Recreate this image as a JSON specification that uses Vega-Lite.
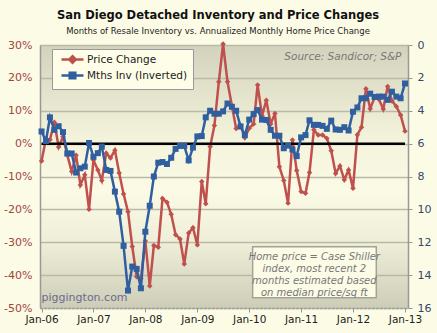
{
  "$schema": "https://vega.github.io/schema/vega-lite/v6.json",
  "width": 368,
  "height": 263,
  "autosize": {"type": "none"},
  "padding": {"left": 40, "top": 45, "right": 29, "bottom": 25},
  "background": "#fcfce6",
  "title": {
    "text": "San Diego Detached Inventory and Price Changes",
    "subtitle": "Months of Resale Inventory vs. Annualized Monthly Home Price Change",
    "font": "DejaVu Sans",
    "fontSize": 11.5,
    "fontWeight": "bold",
    "color": "#111111",
    "subtitleFont": "DejaVu Sans",
    "subtitleFontSize": 8.5,
    "subtitleColor": "#222222",
    "anchor": "middle",
    "offset": 4,
    "subtitlePadding": 5,
    "dx": -6
  },
  "config": {
    "font": "DejaVu Sans",
    "view": {
      "stroke": null,
      "fill": {
        "gradient": "linear",
        "x1": 0, "y1": 0, "x2": 0, "y2": 1,
        "stops": [
          {"offset": 0, "color": "#d3d3bd"},
          {"offset": 0.35, "color": "#f3f3dc"},
          {"offset": 0.55, "color": "#fbfbe5"},
          {"offset": 0.75, "color": "#efefd9"},
          {"offset": 1, "color": "#cdcdb8"}
        ]
      }
    }
  },
  "data": {
    "values": [
      {"date": "2006-01-01", "price": -5.3, "inv": 5.26},
      {"date": "2006-02-01", "price": 1.5, "inv": 5.84},
      {"date": "2006-03-01", "price": 1.2, "inv": 4.40},
      {"date": "2006-04-01", "price": 6.5, "inv": 5.16},
      {"date": "2006-05-01", "price": -1.0, "inv": 4.94},
      {"date": "2006-06-01", "price": 2.1, "inv": 5.30},
      {"date": "2006-07-01", "price": -3.5, "inv": 6.60},
      {"date": "2006-08-01", "price": -8.5, "inv": 6.60},
      {"date": "2006-09-01", "price": -3.5, "inv": 7.76},
      {"date": "2006-10-01", "price": -12.6, "inv": 7.50},
      {"date": "2006-11-01", "price": -9.5, "inv": 7.40},
      {"date": "2006-12-01", "price": -20.0, "inv": 5.96},
      {"date": "2007-01-01", "price": -5.0, "inv": 6.80},
      {"date": "2007-02-01", "price": -8.0, "inv": 6.58},
      {"date": "2007-03-01", "price": -11.2, "inv": 6.18},
      {"date": "2007-04-01", "price": -2.9, "inv": 7.60},
      {"date": "2007-05-01", "price": -4.4, "inv": 7.66},
      {"date": "2007-06-01", "price": -2.0, "inv": 8.92},
      {"date": "2007-07-01", "price": -8.9, "inv": 10.14},
      {"date": "2007-08-01", "price": -15.3, "inv": 12.22},
      {"date": "2007-09-01", "price": -20.7, "inv": 14.94},
      {"date": "2007-10-01", "price": -31.3, "inv": 13.48},
      {"date": "2007-11-01", "price": -40.5, "inv": 13.62},
      {"date": "2007-12-01", "price": -41.0, "inv": 14.80},
      {"date": "2008-01-01", "price": -29.6, "inv": 11.36},
      {"date": "2008-02-01", "price": -43.3, "inv": 9.78},
      {"date": "2008-03-01", "price": -31.0, "inv": 8.00},
      {"date": "2008-04-01", "price": -31.5, "inv": 7.16},
      {"date": "2008-05-01", "price": -16.7, "inv": 7.12},
      {"date": "2008-06-01", "price": -17.8, "inv": 7.24},
      {"date": "2008-07-01", "price": -21.5, "inv": 6.86},
      {"date": "2008-08-01", "price": -27.7, "inv": 6.32},
      {"date": "2008-09-01", "price": -29.0, "inv": 6.14},
      {"date": "2008-10-01", "price": -36.6, "inv": 6.14},
      {"date": "2008-11-01", "price": -27.2, "inv": 7.02},
      {"date": "2008-12-01", "price": -25.6, "inv": 6.24},
      {"date": "2009-01-01", "price": -30.8, "inv": 5.56},
      {"date": "2009-02-01", "price": -11.5, "inv": 5.54},
      {"date": "2009-03-01", "price": -18.3, "inv": 4.40},
      {"date": "2009-04-01", "price": -0.9, "inv": 4.00},
      {"date": "2009-05-01", "price": 5.5, "inv": 4.18},
      {"date": "2009-06-01", "price": 18.8, "inv": 4.18},
      {"date": "2009-07-01", "price": 30.3, "inv": 4.04},
      {"date": "2009-08-01", "price": 18.8, "inv": 3.56},
      {"date": "2009-09-01", "price": 11.5, "inv": 3.76},
      {"date": "2009-10-01", "price": 4.6, "inv": 4.00},
      {"date": "2009-11-01", "price": 5.6, "inv": 4.96},
      {"date": "2009-12-01", "price": 1.8, "inv": 5.48},
      {"date": "2010-01-01", "price": 4.7, "inv": 4.54},
      {"date": "2010-02-01", "price": 6.0, "inv": 4.20},
      {"date": "2010-03-01", "price": 17.8, "inv": 3.96},
      {"date": "2010-04-01", "price": 8.5, "inv": 4.54},
      {"date": "2010-05-01", "price": 13.2, "inv": 4.56},
      {"date": "2010-06-01", "price": 6.0, "inv": 5.16},
      {"date": "2010-07-01", "price": 9.2, "inv": 5.52},
      {"date": "2010-08-01", "price": -7.0, "inv": 5.52},
      {"date": "2010-09-01", "price": -11.2, "inv": 6.28},
      {"date": "2010-10-01", "price": -18.1, "inv": 6.12},
      {"date": "2010-11-01", "price": 1.1, "inv": 6.36},
      {"date": "2010-12-01", "price": -8.2, "inv": 6.76},
      {"date": "2011-01-01", "price": -14.6, "inv": 5.62},
      {"date": "2011-02-01", "price": -15.1, "inv": 5.48},
      {"date": "2011-03-01", "price": -8.8, "inv": 4.58},
      {"date": "2011-04-01", "price": 4.2, "inv": 4.86},
      {"date": "2011-05-01", "price": 2.6, "inv": 4.86},
      {"date": "2011-06-01", "price": 2.6, "inv": 4.92},
      {"date": "2011-07-01", "price": 1.6, "inv": 5.10},
      {"date": "2011-08-01", "price": -2.2, "inv": 4.60},
      {"date": "2011-09-01", "price": -9.1, "inv": 5.14},
      {"date": "2011-10-01", "price": -6.8, "inv": 5.16},
      {"date": "2011-11-01", "price": -11.0, "inv": 5.00},
      {"date": "2011-12-01", "price": -8.0, "inv": 5.20},
      {"date": "2012-01-01", "price": -13.6, "inv": 4.06},
      {"date": "2012-02-01", "price": 2.7, "inv": 3.80},
      {"date": "2012-03-01", "price": 5.0, "inv": 3.24},
      {"date": "2012-04-01", "price": 16.7, "inv": 3.24},
      {"date": "2012-05-01", "price": 10.6, "inv": 2.96},
      {"date": "2012-06-01", "price": 14.0, "inv": 3.16},
      {"date": "2012-07-01", "price": 13.5, "inv": 3.14},
      {"date": "2012-08-01", "price": 10.5, "inv": 3.14},
      {"date": "2012-09-01", "price": 17.4, "inv": 3.34},
      {"date": "2012-10-01", "price": 13.0, "inv": 2.84},
      {"date": "2012-11-01", "price": 11.3, "inv": 3.14},
      {"date": "2012-12-01", "price": 8.7, "inv": 3.24},
      {"date": "2013-01-01", "price": 3.8, "inv": 2.34}
    ]
  },
  "layer": [
    {
      "mark": {
        "type": "line",
        "strokeWidth": 2.5,
        "point": {"shape": "diamond", "size": 30, "filled": true}
      },
      "encoding": {
        "x": {
          "field": "date",
          "type": "temporal",
          "scale": {
            "type": "utc",
            "domain": [
              {"year": 2005, "month": 12, "date": 21, "utc": true},
              {"year": 2013, "month": 1, "date": 22, "utc": true}
            ]
          },
          "axis": {
            "title": null,
            "format": "%b-%y",
            "tickCount": {"interval": "year", "step": 1},
            "grid": false,
            "domainDash": [2, 2],
            "domainColor": "#999999",
            "domainWidth": 1.5,
            "tickColor": "#999999",
            "tickSize": 4,
            "labelColor": "#222222",
            "labelFontSize": 10.5,
            "labelPadding": 2,
            "labelFlush": false,
            "labelOverlap": false
          }
        },
        "y": {
          "field": "price",
          "type": "quantitative",
          "scale": {"domain": [-50, 30], "nice": false, "zero": false},
          "axis": {
            "title": null,
            "values": [-50, -40, -30, -20, -10, 0, 10, 20, 30],
            "labelExpr": "datum.value + '%'",
            "labelColor": "#a0463c",
            "labelFontSize": 11,
            "labelOverlap": false,
            "grid": true,
            "gridColor": "#b9b9a9",
            "gridWidth": 1.5,
            "domainColor": "#999999",
            "domainWidth": 1.5,
            "ticks": false,
            "labelPadding": 8
          }
        },
        "color": {
          "datum": "Price Change",
          "type": "nominal",
          "scale": {
            "domain": ["Price Change", "Mths Inv (Inverted)"],
            "range": ["#c0504d", "#2f5f9f"]
          },
          "legend": {
            "title": null,
            "orient": "none",
            "legendX": 12,
            "legendY": 4,
            "direction": "vertical",
            "fillColor": "#fdfde8",
            "strokeColor": "#999999",
            "padding": 5,
            "labelFont": "DejaVu Sans",
            "labelFontSize": 10.5,
            "labelColor": "#222222",
            "labelExpr": "datum.label + '\u00a0\u00a0\u00a0'",
            "symbolSize": 64,
            "symbolStrokeWidth": 2.5,
            "symbolOffset": 10,
            "labelOffset": 9,
            "rowPadding": -1,
            "encode": {
              "symbols": {
                "update": {
                  "shape": {"signal": "datum.value === 'Price Change' ? 'M-2.75,0H2.75M0,-0.82L0.82,0L0,0.82L-0.82,0Z' : 'M-2.75,0H2.75M-0.7,-0.7H0.7V0.7H-0.7Z'"},
                  "fill": {"signal": "scale('color', datum.value)"},
                  "stroke": {"signal": "scale('color', datum.value)"},
                  "strokeWidth": {"value": 2.5}
                }
              }
            }
          }
        }
      }
    },
    {
      "data": {"values": [{"label": "zero"}]},
      "mark": {"type": "rule", "color": "#000000", "strokeWidth": 2.5},
      "encoding": {
        "x": {"datum": {"year": 2006, "month": 1, "date": 1, "utc": true}, "type": "temporal"},
        "x2": {"datum": {"year": 2013, "month": 1, "date": 1, "utc": true}},
        "y": {"datum": 0, "type": "quantitative", "scale": {"domain": [-50, 30], "nice": false, "zero": false}, "axis": null}
      }
    },
    {
      "data": {"values": [{"label": "Source: Sandicor; S&P"}]},
      "mark": {"type": "text", "align": "right", "baseline": "middle", "fontStyle": "italic", "fontSize": 10.5, "color": "#777777"},
      "encoding": {
        "x": {"datum": {"year": 2012, "month": 12, "date": 7, "utc": true}, "type": "temporal"},
        "y": {"datum": 26.4, "type": "quantitative", "scale": {"domain": [-50, 30], "nice": false, "zero": false}, "axis": null},
        "text": {"field": "label"}
      }
    },
    {
      "data": {"values": [{"label": "piggington.com"}]},
      "mark": {"type": "text", "align": "left", "baseline": "middle", "fontSize": 11, "color": "#6b6b8e"},
      "encoding": {
        "x": {"datum": {"year": 2006, "month": 1, "date": 1, "utc": true}, "type": "temporal"},
        "y": {"datum": -47, "type": "quantitative", "scale": {"domain": [-50, 30], "nice": false, "zero": false}, "axis": null},
        "text": {"field": "label"}
      }
    },
    {
      "data": {"values": [{"label": "box"}]},
      "mark": {"type": "rect", "fill": "#fbfbe6", "stroke": "#a3a395", "strokeWidth": 1.5},
      "encoding": {
        "x": {"datum": {"year": 2010, "month": 1, "date": 25, "utc": true}, "type": "temporal"},
        "x2": {"datum": {"year": 2012, "month": 6, "date": 13, "utc": true}},
        "y": {"datum": -31.4, "type": "quantitative", "scale": {"domain": [-50, 30], "nice": false, "zero": false}, "axis": null},
        "y2": {"datum": -46.9}
      }
    },
    {
      "data": {"values": [{"label": "note"}]},
      "mark": {"type": "text", "align": "center", "baseline": "middle", "fontStyle": "italic", "fontSize": 10, "lineHeight": 12, "color": "#777777"},
      "encoding": {
        "x": {"datum": {"year": 2011, "month": 4, "date": 4, "utc": true}, "type": "temporal"},
        "y": {"datum": -34.4, "type": "quantitative", "scale": {"domain": [-50, 30], "nice": false, "zero": false}, "axis": null},
        "text": {"value": ["Home price = Case Shiller", "index, most recent 2", "months estimated based", "on median price/sq ft"]}
      }
    },
    {
      "mark": {
        "type": "line",
        "strokeWidth": 2.5,
        "point": {"shape": "square", "size": 36, "filled": true}
      },
      "encoding": {
        "x": {"field": "date", "type": "temporal"},
        "y": {
          "field": "inv",
          "type": "quantitative",
          "scale": {"domain": [0, 16], "reverse": true, "nice": false},
          "axis": {
            "title": null,
            "orient": "right",
            "values": [0, 2, 4, 6, 8, 10, 12, 14, 16],
            "labelColor": "#34486b",
            "labelFontSize": 11,
            "labelOverlap": false,
            "grid": false,
            "domainColor": "#999999",
            "domainWidth": 1.5,
            "tickColor": "#999999",
            "tickSize": 4,
            "labelPadding": 5
          }
        },
        "color": {"datum": "Mths Inv (Inverted)", "type": "nominal"}
      }
    }
  ],
  "resolve": {"scale": {"y": "independent"}}
}
